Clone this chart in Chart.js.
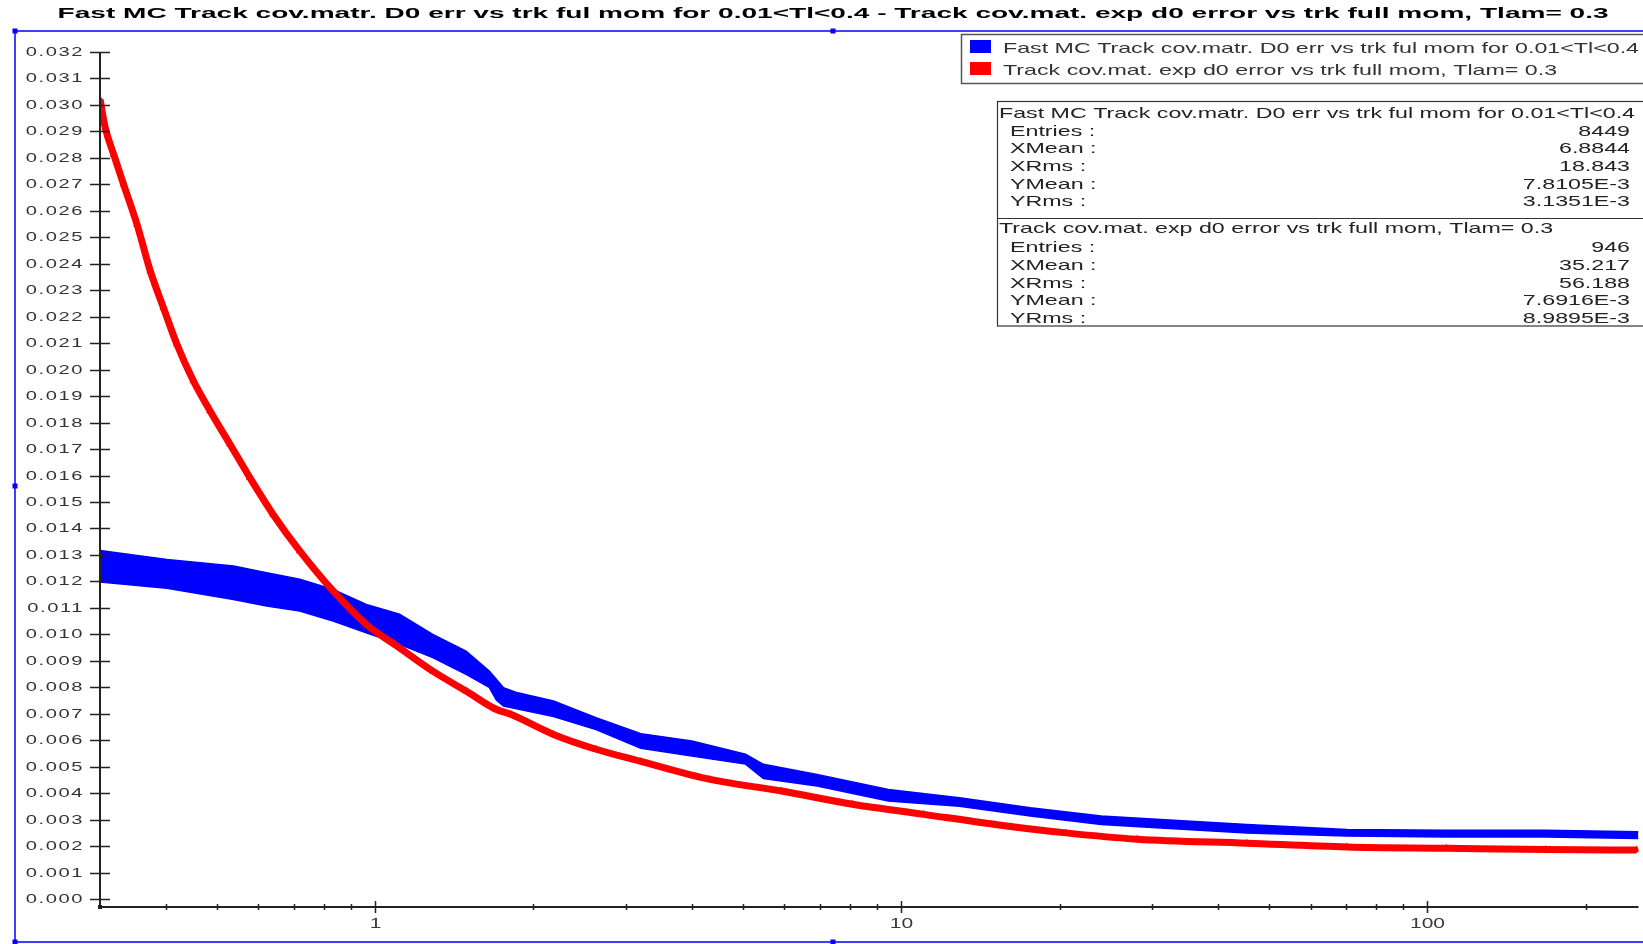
<!DOCTYPE html>
<html>
<head>
<meta charset="utf-8">
<script src="https://cdn.jsdelivr.net/npm/chart.js@4.4.1/dist/chart.umd.min.js"></script>
<style>
  html, body { margin: 0; padding: 0; background: #fff; }
  #wrap { width: 1643px; height: 944px; }
</style>
</head>
<body>
<div id="wrap"><canvas id="plot" width="1643" height="944"></canvas></div>
<script>
/* data */
var titleText = "Fast MC Track cov.matr. D0 err vs trk ful mom for 0.01<Tl<0.4 - Track cov.mat. exp d0 error vs trk full mom, Tlam= 0.3";
var seriesNames = [
    "Fast MC Track cov.matr. D0 err vs trk ful mom for 0.01<Tl<0.4",
    "Track cov.mat. exp d0 error vs trk full mom, Tlam= 0.3"
];
var seriesColors = ["#0000ff", "#ff0000"];

// blue: band of entries, upper and lower edge at the same momenta
var bandX  = [0.30, 0.402, 0.538, 0.622, 0.719, 0.832, 0.962, 1.113, 1.287, 1.489, 1.648, 1.70, 1.754, 1.867, 2.183, 2.63, 3.2, 4.0, 5.06, 5.47, 6.92, 9.45, 12.9, 17.6, 24.0, 30, 45.4, 70.3, 108.7, 168, 252];
var bandHi = [0.01317, 0.01283, 0.01258, 0.01233, 0.01208, 0.01170, 0.01113, 0.01076, 0.01000, 0.00937, 0.00861, 0.00830, 0.00798, 0.00779, 0.00748, 0.00685, 0.00625, 0.00597, 0.00547, 0.00509, 0.00471, 0.00414, 0.00383, 0.00345, 0.00314, 0.00302, 0.00282, 0.00263, 0.00260, 0.00260, 0.00254];
var bandLo = [0.01198, 0.01174, 0.01132, 0.01107, 0.01088, 0.01050, 0.01006, 0.00962, 0.00912, 0.00849, 0.00800, 0.00752, 0.00729, 0.00718, 0.00690, 0.00640, 0.00570, 0.00540, 0.00510, 0.00455, 0.00427, 0.00370, 0.00351, 0.00314, 0.00282, 0.00270, 0.00250, 0.00238, 0.00234, 0.00234, 0.00229];

// red: expected d0 error
var redX = [0.300, 0.307, 0.3185, 0.3326, 0.3527, 0.3738, 0.396, 0.420, 0.4516, 0.4857, 0.530, 0.578, 0.640, 0.719, 0.832, 0.962, 1.113, 1.287, 1.489, 1.697, 1.81, 2.183, 2.63, 3.2, 4.33, 5.92, 8.08, 11.04, 15.07, 20.56, 28.1, 45.4, 70.3, 108.7, 168, 250];
var redY = [0.03021, 0.02914, 0.02813, 0.02700, 0.02549, 0.02373, 0.02234, 0.02096, 0.01957, 0.01844, 0.01718, 0.01592, 0.01453, 0.01315, 0.01164, 0.01038, 0.00949, 0.00861, 0.00786, 0.00717, 0.00698, 0.00622, 0.00566, 0.00520, 0.00452, 0.00408, 0.00358, 0.00320, 0.00282, 0.00250, 0.00226, 0.00211, 0.00197, 0.00192, 0.00187, 0.00185];

// axes
var xMin = 0.3, xMax = 252;
var yMin = -0.0003, yMax = 0.032, yStep = 0.001;
var xMajorTicks = [1, 10, 100];
var xMinorTicks = [0.4, 0.5, 0.6, 0.7, 0.8, 0.9, 2, 3, 4, 5, 6, 7, 8, 9, 20, 30, 40, 50, 60, 70, 80, 90, 200];

// stats box
var statLabels = ["Entries :", "XMean :", "XRms :", "YMean :", "YRms :"];
var statsBlue  = ["8449", "6.8844", "18.843", "7.8105E-3", "3.1351E-3"];
var statsRed   = ["946", "35.217", "56.188", "7.6916E-3", "8.9895E-3"];

function pts(xs, ys) {
    var out = [];
    for (var i = 0; i < xs.length; i++) out.push({ x: xs[i], y: ys[i] });
    return out;
}

// draw text stretched horizontally (the original render is wide)
function wideText(ctx, txt, x, y, o) {
    ctx.save();
    ctx.font = o.font;
    ctx.fillStyle = o.color || "#000";
    ctx.textBaseline = "middle";
    ctx.textAlign = o.align || "left";
    if (o.spacing && "letterSpacing" in ctx) ctx.letterSpacing = o.spacing + "px";
    var sx = o.sx || 1;
    if (o.width) sx = o.width / ctx.measureText(txt).width;
    ctx.translate(x, y);
    ctx.scale(sx, 1);
    ctx.fillText(txt, 0, 0);
    ctx.restore();
    return sx;
}

var decor = {
    id: "decor",
    afterDraw: function(chart) {
        var ctx = chart.ctx;
        var xs = chart.scales.x, ys = chart.scales.y;
        var area = chart.chartArea;
        var axisY = area.bottom, axisX = area.left;

        ctx.save();
        // axis lines
        ctx.strokeStyle = "#222";
        ctx.lineWidth = 2;
        ctx.beginPath();
        ctx.moveTo(axisX, ys.getPixelForValue(yMax));
        ctx.lineTo(axisX, axisY);
        ctx.lineTo(area.right, axisY);
        ctx.stroke();
        ctx.fillStyle = "#222";
        ctx.fillRect(axisX - 2, axisY - 2, 4, 4);

        // y ticks + labels
        ctx.lineWidth = 1.5;
        for (var k = 0; k <= 32; k++) {
            var v = k * yStep;
            var py = Math.round(ys.getPixelForValue(v)) + 0.5;
            ctx.beginPath();
            ctx.moveTo(axisX - 10, py);
            ctx.lineTo(axisX + 10, py);
            ctx.stroke();
            wideText(ctx, v.toFixed(3), 84, py, { font: "13px 'Liberation Sans'", color: "#333", sx: 1.55, spacing: 1, align: "right" });
        }

        // x ticks + labels
        xMinorTicks.forEach(function(t) {
            var px = Math.round(xs.getPixelForValue(t)) + 0.5;
            ctx.beginPath();
            ctx.moveTo(px, axisY - 3);
            ctx.lineTo(px, axisY + 3);
            ctx.stroke();
        });
        xMajorTicks.forEach(function(t) {
            var px = Math.round(xs.getPixelForValue(t)) + 0.5;
            ctx.beginPath();
            ctx.moveTo(px, axisY - 6);
            ctx.lineTo(px, axisY + 6);
            ctx.stroke();
            wideText(ctx, String(t), px, axisY + 17, { font: "14px 'Liberation Sans'", color: "#3a3a3a", sx: 1.5, align: "center" });
        });

        // title
        wideText(ctx, titleText, 57.6, 14, { font: "bold 15px 'Liberation Sans'", color: "#000", width: 1551 });

        // legend box
        ctx.fillStyle = "#fff";
        ctx.fillRect(961, 34.5, 700, 49);
        ctx.strokeStyle = "#555";
        ctx.lineWidth = 1.5;
        ctx.strokeRect(961.5, 34.5, 700, 49);
        ctx.fillStyle = seriesColors[0];
        ctx.fillRect(970, 40, 21, 13);
        ctx.fillStyle = seriesColors[1];
        ctx.fillRect(970, 62, 21, 13);
        var lsx = wideText(ctx, seriesNames[0], 1003, 49, { font: "15px 'Liberation Sans'", color: "#333", width: 636 });
        wideText(ctx, seriesNames[1], 1003, 70.5, { font: "15px 'Liberation Sans'", color: "#333", sx: lsx });

        // stats box
        ctx.fillStyle = "#fff";
        ctx.fillRect(997.5, 101.5, 700, 224.5);
        ctx.strokeStyle = "#333";
        ctx.lineWidth = 1.2;
        ctx.strokeRect(997.5, 101.5, 700, 224.5);
        ctx.beginPath();
        ctx.moveTo(997.5, 218.5);
        ctx.lineTo(1643, 218.5);
        ctx.stroke();
        var groups = [[seriesNames[0], statsBlue, 114, 131.5], [seriesNames[1], statsRed, 229, 248]];
        groups.forEach(function(g) {
            wideText(ctx, g[0], 999, g[2], { font: "15px 'Liberation Sans'", color: "#222", sx: lsx });
            for (var i = 0; i < statLabels.length; i++) {
                var yy = g[3] + 17.7 * i;
                wideText(ctx, statLabels[i], 1010, yy, { font: "15px 'Liberation Sans'", color: "#222", sx: lsx });
                wideText(ctx, g[1][i], 1630, yy, { font: "15px 'Liberation Sans'", color: "#222", sx: lsx, align: "right" });
            }
        });

        // blue selection frame with handles
        ctx.strokeStyle = "#0000ff";
        ctx.lineWidth = 1.5;
        ctx.beginPath();
        ctx.moveTo(1650, 31);
        ctx.lineTo(15, 31);
        ctx.lineTo(15, 942);
        ctx.lineTo(1650, 942);
        ctx.stroke();
        ctx.fillStyle = "#0000ff";
        [[15, 31], [833, 31], [15, 486], [15, 942], [833, 942]].forEach(function(h) {
            ctx.fillRect(h[0] - 2.5, h[1] - 2.5, 5, 5);
        });
        ctx.restore();
    }
};

var ctx = document.getElementById("plot").getContext("2d");
var chart = new Chart(ctx, {
    type: "scatter",
    data: {
        datasets: [
            {
                label: seriesNames[1],
                data: pts(redX, redY),
                showLine: true,
                borderColor: seriesColors[1],
                borderWidth: 7,
                backgroundColor: seriesColors[1],
                pointStyle: "triangle",
                pointRadius: 4.5,
                pointBorderWidth: 0,
                cubicInterpolationMode: "monotone"
            },
            {
                label: seriesNames[0] + " hi",
                data: pts(bandX, bandHi),
                showLine: true,
                borderColor: seriesColors[0],
                borderWidth: 1.5,
                backgroundColor: seriesColors[0],
                pointRadius: 0,
                fill: false,
                tension: 0
            },
            {
                label: seriesNames[0] + " lo",
                data: pts(bandX, bandLo),
                showLine: true,
                borderColor: seriesColors[0],
                borderWidth: 1.5,
                backgroundColor: seriesColors[0],
                pointRadius: 0,
                fill: "-1",
                tension: 0
            }
        ]
    },
    options: {
        responsive: false,
        animation: false,
        devicePixelRatio: 1,
        layout: { padding: { left: 100, top: 52, right: 0, bottom: 37 } },
        plugins: {
            legend: { display: false },
            title: { display: false },
            tooltip: { enabled: false }
        },
        scales: {
            x: { type: "logarithmic", min: xMin, max: xMax, display: false },
            y: { type: "linear", min: yMin, max: yMax, display: false }
        }
    },
    plugins: [decor]
});
</script>
</body>
</html>
